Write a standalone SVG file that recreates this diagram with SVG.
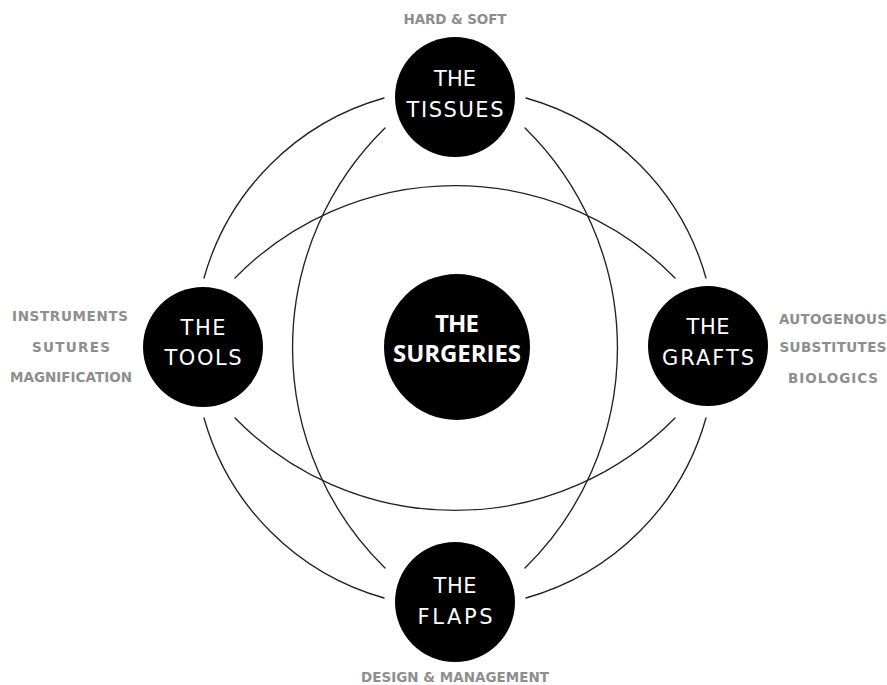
<svg xmlns="http://www.w3.org/2000/svg" width="887" height="685" viewBox="0 0 887 685">
<style>
.arc{fill:none;stroke:#222;stroke-width:1.35;stroke-linecap:round}
.node{fill:#000}
.nt{fill:#fff;font-family:"DejaVu Sans","Liberation Sans",sans-serif;font-size:21px;font-weight:400;text-anchor:middle}
.ct{fill:#fff;font-family:"Open Sans","Liberation Sans",sans-serif;font-size:24px;font-weight:700;text-anchor:middle}
.lb{fill:#8e8e8e;font-family:"DejaVu Sans","Liberation Sans",sans-serif;font-size:13.5px;font-weight:700;text-anchor:middle}
</style>
<rect width="887" height="685" fill="#fff"/>
<g id="connectors">
<path class="arc" d="M384,98 A260,260 0 0 0 204,278"/>
<path class="arc" d="M526,98 A260,260 0 0 1 706,278"/>
<path class="arc" d="M706,418 A260,260 0 0 1 526,598"/>
<path class="arc" d="M204,418 A260,260 0 0 0 384,598"/>
<path class="arc" d="M385,128 A308,308 0 0 0 385,568"/>
<path class="arc" d="M525,128 A308,308 0 0 1 525,568"/>
<path class="arc" d="M235,278 A308,308 0 0 1 675,278"/>
<path class="arc" d="M235,418 A308,308 0 0 0 675,418"/>
</g>
<g id="tissues">
<circle class="node" cx="455" cy="97" r="60"/>
<text class="nt" x="455" y="86" textLength="42" lengthAdjust="spacing">THE</text>
<text class="nt" x="455" y="116.5" textLength="97" lengthAdjust="spacing">TISSUES</text>
<text class="lb" x="455" y="24" textLength="103" lengthAdjust="spacing">HARD &amp; SOFT</text>
</g>
<g id="tools">
<circle class="node" cx="203" cy="347" r="60"/>
<text class="nt" x="203" y="335" textLength="45" lengthAdjust="spacing">THE</text>
<text class="nt" x="203" y="365" textLength="77" lengthAdjust="spacing">TOOLS</text>
<text class="lb" x="70" y="321" textLength="116" lengthAdjust="spacing">INSTRUMENTS</text>
<text class="lb" x="71" y="351.5" textLength="78" lengthAdjust="spacing">SUTURES</text>
<text class="lb" x="71" y="382" textLength="122" lengthAdjust="spacing">MAGNIFICATION</text>
</g>
<g id="grafts">
<circle class="node" cx="708" cy="346" r="60"/>
<text class="nt" x="708" y="333.5" textLength="43" lengthAdjust="spacing">THE</text>
<text class="nt" x="708" y="365" textLength="92" lengthAdjust="spacing">GRAFTS</text>
<text class="lb" x="833" y="323.5" textLength="108" lengthAdjust="spacing">AUTOGENOUS</text>
<text class="lb" x="833" y="352" textLength="107" lengthAdjust="spacing">SUBSTITUTES</text>
<text class="lb" x="833" y="382.5" textLength="90" lengthAdjust="spacing">BIOLOGICS</text>
</g>
<g id="flaps">
<circle class="node" cx="455" cy="602" r="60"/>
<text class="nt" x="455" y="593" textLength="43" lengthAdjust="spacing">THE</text>
<text class="nt" x="455" y="624" textLength="75" lengthAdjust="spacing">FLAPS</text>
<text class="lb" x="455" y="682" textLength="188" lengthAdjust="spacing">DESIGN &amp; MANAGEMENT</text>
</g>
<g id="surgeries">
<circle class="node" cx="457" cy="347" r="73"/>
<text class="ct" x="457" y="331.5" textLength="44" lengthAdjust="spacing">THE</text>
<text class="ct" x="457" y="361.5" textLength="128" lengthAdjust="spacing">SURGERIES</text>
</g>
</svg>
